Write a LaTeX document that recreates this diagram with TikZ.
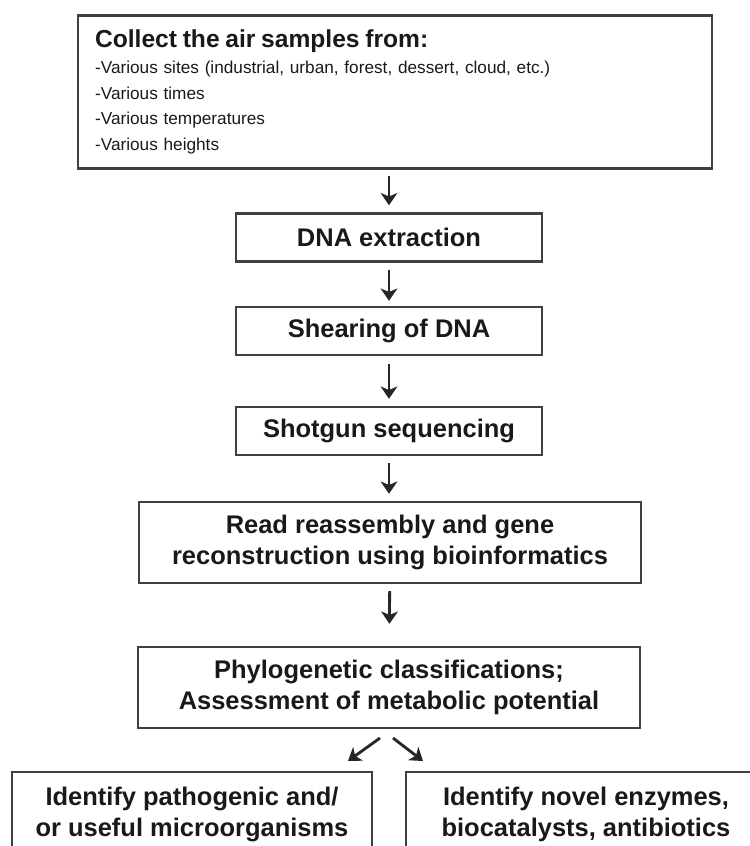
\documentclass[tikz,border=0pt]{standalone}
\usepackage{fontspec}
\setmainfont{Liberation Sans}
\usetikzlibrary{arrows.meta}

\tikzset{
  stepbox/.style={draw=black!75, line width=1.4pt, align=center, inner sep=0pt,
    text=black!90, font=\fontsize{14.5}{17.6}\selectfont\bfseries},
  flow/.style={line width=1.6pt, black!85, -{Stealth[length=7pt,width=9.5pt,inset=2pt]}},
}

\begin{document}
\begin{tikzpicture}[x=0.02cm, y=-0.02cm]
        \useasboundingbox (0,0) rectangle (750,846);

        % Sampling box
        \node[stepbox, align=left, inner xsep=0.34cm, text width=12cm, minimum height=3.06cm,
              font=\fontsize{9.8}{14.6}\selectfont] (samples) at (395,92)
              {{\fontsize{14}{16}\selectfont\bfseries Collect the air samples from:}\\
               -Various sites (industrial, urban, forest, dessert, cloud, etc.)\\
               -Various times\\
               -Various temperatures\\
               -Various heights};

        % Main steps
        \node[stepbox, minimum width=6.12cm, minimum height=0.96cm] (dna) at (389,237.5) {DNA extraction};
        \node[stepbox, minimum width=6.12cm, minimum height=0.96cm] (shear) at (389,331) {Shearing of DNA};
        \node[stepbox, minimum width=6.12cm, minimum height=0.96cm] (shotgun) at (389,431) {Shotgun sequencing};
        \node[stepbox, minimum width=10.04cm, minimum height=1.62cm] (assembly) at (390,542.5)
              {Read reassembly and gene\\reconstruction using bioinformatics};
        \node[stepbox, minimum width=10.04cm, minimum height=1.62cm] (phylo) at (389,687.5)
              {Phylogenetic classifications;\\Assessment of metabolic potential};

        % Outcomes (cut by the page edge)
        \node[stepbox, minimum width=7.2cm, minimum height=1.68cm] (pathogen) at (192,814)
              {Identify pathogenic and/\\or useful microorganisms};
        \node[stepbox, minimum width=7.2cm, minimum height=1.68cm] (enzyme) at (586,814)
              {Identify novel enzymes,\\biocatalysts, antibiotics};

        % Arrows
        \draw[flow, shorten <=0.12cm, shorten >=0.14cm] (samples.south -| dna.north) -- (dna.north);
        \draw[flow, shorten <=0.14cm, shorten >=0.1cm] (dna) -- (shear);
        \draw[flow, shorten <=0.16cm, shorten >=0.14cm] (shear) -- (shotgun);
        \draw[flow, shorten <=0.14cm, shorten >=0.14cm] (shotgun.south) -- (assembly.north -| shotgun.south);
        \draw[flow, shorten <=0.14cm, shorten >=0.44cm] (assembly) -- (phylo);

        % Split
        \coordinate (splitL) at (380,738);
        \coordinate (tipL) at (348,761);
        \coordinate (splitR) at (393,738);
        \coordinate (tipR) at (423,761);
        \draw[flow] (splitL) -- (tipL);
        \draw[flow] (splitR) -- (tipR);

    \end{tikzpicture}
\end{document}
